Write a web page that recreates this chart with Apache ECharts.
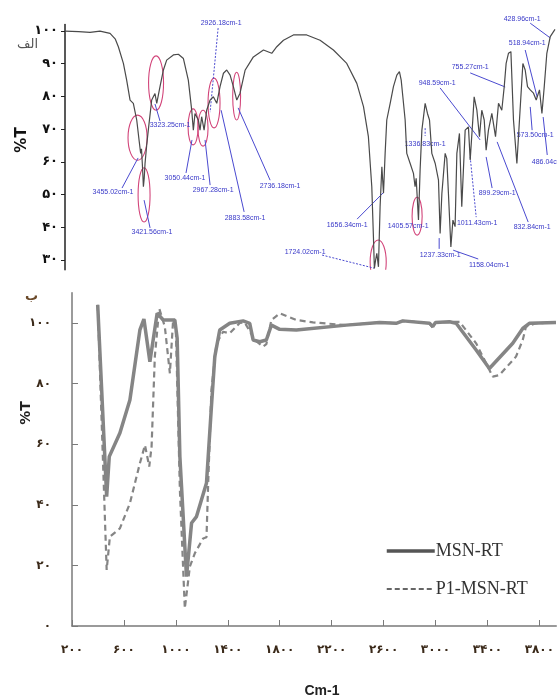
<!DOCTYPE html>
<html>
<head>
<meta charset="utf-8">
<script src="https://cdn.jsdelivr.net/npm/echarts@6/dist/echarts.min.js"></script>
<style>
  html, body { margin: 0; padding: 0; background: #fff; }
  #chart { width: 557px; height: 695px; }
</style>
</head>
<body>
<div id="chart"></div>
<script>
// Spectrum (a): wavenumber (cm-1), transmittance (%T)
const spectrumA = [
  [4000,100],[3900,99.8],[3816,99.6],[3743,100],[3669,99.3],[3630,97.5],[3608,95.2],[3571,90.1],
  [3547,85],[3522,78.9],[3498,77.9],[3473,72.8],[3456,66.7],[3444,62.6],[3438,64],[3430,58],
  [3424,52.4],[3418,55],[3412,59.5],[3400,65],[3388,69.7],[3363,78.9],[3339,80.9],[3326,77.9],
  [3302,83],[3277,88.1],[3253,91.1],[3204,92.7],[3167,92.9],[3130,91.6],[3094,85],[3069,75.8],
  [3057,69.7],[3045,74.8],[3020,72.8],[3008,69.7],[2996,73.8],[2978,69.7],[2959,75.8],[2934,78.9],
  [2910,79.9],[2885,77.9],[2861,83],[2836,87.1],[2812,88.1],[2787,86.5],[2763,83],[2738,78.9],
  [2714,81],[2677,88],[2640,90.5],[2616,92.1],[2542,94.2],[2481,93.2],[2444,95.2],[2395,97.2],
  [2322,98.8],[2224,98.8],[2126,97.2],[2028,94.2],[1930,90.1],[1856,84],[1807,76.9],[1771,67.7],
  [1746,52.4],[1734,37.1],[1727,27.4],[1718,30],[1709,32],[1697,27.9],[1685,46.3],[1672,58.5],
  [1660,50.4],[1648,62.6],[1636,72.8],[1611,77.9],[1587,83],[1562,86.5],[1543,87.6],[1530,85],
  [1518,80],[1501,72.8],[1489,62.6],[1464,59.5],[1440,56.5],[1428,52.4],[1420,55],[1403,42.2],
  [1391,57.5],[1378,69.7],[1354,77.9],[1337,74.8],[1322,72.8],[1305,62.6],[1280,59.5],[1256,54.4],
  [1244,38.1],[1231,50.4],[1207,62.6],[1195,61],[1183,50.4],[1165,34],[1150,42.2],[1134,40.2],
  [1121,62.6],[1102,68.7],[1085,46.3],[1060,69.7],[1036,70.7],[1023,60.6],[1004,72.8],[994,79.9],
  [974,75.8],[955,67.7],[938,75.8],[920,72.8],[906,63.6],[889,69.7],[864,74.8],[850,75],
  [837,67.7],[815,77.9],[791,75.8],[773,83],[759,90.1],[742,93.2],[724,93.7],[705,72.8],
  [680,59.5],[661,72.8],[636,90.1],[619,88.1],[602,83],[582,82],[558,81],[538,78.9],
  [514,82],[496,74.8],[479,83],[460,93.2],[435,98.3],[411,99.8],[400,100.5]
];

// Spectrum (b): MSN-RT
const msnRt = [
  [398,106],[467,42.7],[487,55.9],[569,63.7],[646,74.6],[723,97.7],[754,101.3],[800,87.2],
  [856,103.2],[903,101],[992,101],[1010,95],[1031,55.9],[1082,16.3],[1121,34],[1159,36.1],
  [1236,47.2],[1274,72.4],[1300,88.9],[1338,97.7],[1415,99.9],[1518,100.7],[1569,99.9],[1595,94.4],
  [1646,93.8],[1697,94.4],[1736,99.3],[1800,97.9],[1928,97.7],[2313,99.3],[2569,100.2],[2697,99.9],
  [2748,100.7],[2954,99.9],[2979,98.8],[3000,100.2],[3108,100.4],[3159,99.9],[3313,91.1],[3415,85],
  [3428,84.6],[3595,93.3],[3672,98.2],[3723,99.9],[3928,100.2]
];

// Spectrum (b): P1-MSN-RT
const p1MsnRt = [
  [398,106],[467,18.5],[492,29.5],[569,32.2],[646,40.5],[723,53.7],[762,59.7],[795,52.6],
  [813,59.2],[838,88.9],[872,104.8],[915,98.8],[954,83.4],[979,101],[1000,98],[1031,44.9],
  [1069,5.8],[1108,19.6],[1146,24],[1210,28.9],[1236,29.3],[1249,47.1],[1274,77.9],[1313,93.3],
  [1364,97.1],[1415,96.6],[1492,100],[1530,100.2],[1608,94.4],[1672,92.2],[1697,93],[1736,101],
  [1800,103.2],[1928,101],[2056,100.2],[2313,99.3],[2569,100.2],[2697,99.9],[2748,100.7],[2954,99.9],
  [2979,98.4],[3000,100],[3108,100.4],[3185,100.4],[3313,93.3],[3441,82.3],[3492,82.8],[3620,88.9],
  [3672,94.4],[3697,98.8],[3774,99.9],[3928,100.2]
];

// Tick values
const ticksA = [30, 40, 50, 60, 70, 80, 90, 100];
const ticksBy = [0, 20, 40, 60, 80, 100];
const ticksBx = [200, 600, 1000, 1400, 1800, 2200, 2600, 3000, 3400, 3800];

// Peak labels on spectrum (a): text, label position (wn, T), leader from (wn, T) to (wn, T), dashed leader
const peakText = [
  '3455.02cm-1','3421.56cm-1','3323.25cm-1','3050.44cm-1','2967.28cm-1','2926.18cm-1',
  '2883.58cm-1','2736.18cm-1','1656.34cm-1','1724.02cm-1','1405.57cm-1','1336.83cm-1',
  '1237.33cm-1','1158.04cm-1','1011.43cm-1','948.59cm-1','899.29cm-1','832.84cm-1',
  '755.27cm-1','518.94cm-1','573.50cm-1','486.04cm-1','428.96cm-1'
];
const peakLabelPos = [
  [3647,50.8],[3361,38.6],[3228,71.3],[3118,55.1],[2912,51.4],[2853,102.4],
  [2677,42.8],[2420,52.6],[1927,40.7],[2236,32.4],[1479,40.4],[1354,65.5],
  [1244,31.5],[884,28.5],[972,41.3],[1266,84.1],[825,50.5],[568,40.1],
  [1023,89],[604,96.3],[546,68.2],[435,60],[641,103.7]
];
const peakLeaders = [
  [3581,52,3463,61.2],[3419,48.3,3375,39.8],[3339,77.7,3302,72.5],[3067,66.7,3111,56.6],
  [2971,66.7,2934,52.9],[2875,100.9,2934,75.2],[2853,75.8,2684,44.7],[2728,76.5,2493,54.4],
  [1854,42.5,1663,50.5],[2111,31.5,1729,27.5],null,[1354,70.3,1354,67.9],
  [1251,36.7,1251,33.4],[1148,33,964,30.3],[1023,61.5,979,43.1],[1244,82.6,950,66.7],
  [906,61.5,862,52],[825,66.1,597,41.6],[1023,87.2,766,82.9],[619,94.2,531,79.8],
  [582,76.8,568,69.7],[487,73.7,457,62.1],[582,102.4,435,97.9]
];
const peakLeaderDashed = [0,0,0,0,0,1,0,0,0,1,0,1,0,0,1,0,0,0,0,0,0,0,0];

// Highlighted regions on spectrum (a): centre (wn, T), half width (wn), half height (T)
const peakRings = [
  [3467,67.4,70,6.9],[3419,49.9,44,8.3],[3331,84.1,55,8.3],[3059,70.7,37,5.5],
  [2986,70.3,37,5.5],[2905,78,44,7.6],[2739,80.1,29,7.3],[1699,29.4,59,6.7],[1413,43.4,37,5.8]
];

const persian = v => String(v).replace(/\d/g, d => '۰۱۲۳۴۵۶۷۸۹'[+d]);

const chart = echarts.init(document.getElementById('chart'), null, { renderer: 'canvas' });

const labelRows = peakLabelPos.map((p, i) => {
  const l = peakLeaders[i] || [p[0], p[1], p[0], p[1]];
  return [p[0], p[1], l[0], l[1], l[2], l[3], peakLeaderDashed[i], peakLeaders[i] ? 1 : 0];
});

const option = {
  backgroundColor: '#ffffff',
  animation: false,
  grid: [
    { left: 65, top: 24.5, width: 490, height: 245.3 },
    { left: 72, top: 292.7, width: 485, height: 333.3 }
  ],
  xAxis: [
    { gridIndex: 0, type: 'value', inverse: true, min: 400, max: 4000, show: false },
    {
      gridIndex: 1, type: 'value', min: 200, max: 3930,
      axisLine: { lineStyle: { color: '#7a7a7a', width: 1.5 } },
      axisTick: { inside: true, length: 6, customValues: ticksBx, lineStyle: { color: '#7a7a7a' } },
      axisLabel: {
        customValues: ticksBx, formatter: v => persian(v), margin: 18,
        color: '#3b2a1a', fontFamily: 'DejaVu Sans', fontSize: 12, fontWeight: 'bold'
      },
      splitLine: { show: false }
    }
  ],
  yAxis: [
    {
      gridIndex: 0, type: 'value', min: 27, max: 102,
      axisLine: { show: true, lineStyle: { color: '#222', width: 1.5 } },
      axisTick: { show: true, inside: false, length: 4, customValues: ticksA, lineStyle: { color: '#222' } },
      axisLabel: {
        customValues: ticksA, formatter: v => persian(v), margin: 7,
        color: '#111', fontFamily: 'DejaVu Sans', fontSize: 13, fontWeight: 'bold'
      },
      splitLine: { show: false }
    },
    {
      gridIndex: 1, type: 'value', min: 0, max: 110,
      axisLine: { show: true, lineStyle: { color: '#7a7a7a', width: 1.5 } },
      axisTick: { show: true, inside: true, length: 6, customValues: ticksBy, lineStyle: { color: '#7a7a7a' } },
      axisLabel: {
        customValues: ticksBy, formatter: v => persian(v), margin: 21,
        color: '#3b2a1a', fontFamily: 'DejaVu Sans', fontSize: 12, fontWeight: 'bold'
      },
      splitLine: { show: false }
    }
  ],
  legend: {
    orient: 'vertical', left: 380, top: 537, itemWidth: 48, itemHeight: 14, itemGap: 20,
    data: [
      { name: 'MSN-RT', itemStyle: { opacity: 0 }, lineStyle: { width: 3.5, color: '#555' } },
      { name: 'P1-MSN-RT', itemStyle: { opacity: 0 }, lineStyle: { width: 2, color: '#666', type: [5, 3] } }
    ],
    textStyle: { fontFamily: 'Liberation Serif', fontSize: 18, color: '#333', padding: [0, 0, 0, -4] }
  },
  series: [
    {
      type: 'line', name: 'spectrum-a', xAxisIndex: 0, yAxisIndex: 0, data: spectrumA,
      showSymbol: false, symbol: 'none', clip: false,
      lineStyle: { color: '#4a4a4a', width: 1.2 }
    },
    {
      type: 'custom', xAxisIndex: 0, yAxisIndex: 0, clip: true, silent: true,
      data: peakRings,
      renderItem: (params, api) => {
        const c = api.coord([api.value(0), api.value(1)]);
        const s = api.size([api.value(2), api.value(3)]);
        return {
          type: 'ellipse',
          shape: { cx: c[0], cy: c[1], rx: s[0], ry: s[1] },
          style: { fill: null, stroke: '#d2457a', lineWidth: 1.1 }
        };
      }
    },
    {
      type: 'custom', xAxisIndex: 0, yAxisIndex: 0, clip: false, silent: true,
      data: labelRows,
      renderItem: (params, api) => {
        const p = api.coord([api.value(0), api.value(1)]);
        const a = api.coord([api.value(2), api.value(3)]);
        const b = api.coord([api.value(4), api.value(5)]);
        const children = [];
        if (api.value(7)) {
          children.push({
            type: 'line',
            shape: { x1: a[0], y1: a[1], x2: b[0], y2: b[1] },
            style: { stroke: '#4a4ad0', lineWidth: 1, lineDash: api.value(6) ? [2, 1.5] : null }
          });
        }
        children.push({
          type: 'text',
          style: {
            text: peakText[params.dataIndex], x: p[0], y: p[1],
            align: 'center', verticalAlign: 'middle',
            fill: '#3838c8', font: '7px "Liberation Sans", sans-serif'
          }
        });
        return { type: 'group', children };
      }
    },
    {
      type: 'line', name: 'MSN-RT', xAxisIndex: 1, yAxisIndex: 1, data: msnRt,
      showSymbol: false, symbol: 'none', clip: false, color: '#858585',
      lineStyle: { color: '#858585', width: 3.5 }
    },
    {
      type: 'line', name: 'P1-MSN-RT', xAxisIndex: 1, yAxisIndex: 1, data: p1MsnRt,
      showSymbol: false, symbol: 'none', clip: false, color: '#858585',
      lineStyle: { color: '#858585', width: 2.2, type: [6, 4] }
    }
  ],
  graphic: [
    { type: 'text', left: 17, top: 38, style: { text: 'الف', fill: '#555', font: '13px "DejaVu Sans"' } },
    { type: 'text', left: 25, top: 290, style: { text: 'ب', fill: '#6b4a2a', font: 'bold 13px "DejaVu Sans"' } },
    { type: 'text', x: 22, y: 140, rotation: Math.PI / 2,
      style: { text: '%T', fill: '#111', font: 'bold 15px "DejaVu Sans"', align: 'center', verticalAlign: 'middle' } },
    { type: 'text', x: 26, y: 413, rotation: Math.PI / 2,
      style: { text: '%T', fill: '#222', font: 'bold 14px "DejaVu Sans"', align: 'center', verticalAlign: 'middle' } },
    { type: 'text', x: 322, y: 691,
      style: { text: 'Cm-1', fill: '#222', font: 'bold 14px "Liberation Sans"', align: 'center', verticalAlign: 'middle' } }
  ]
};

chart.setOption(option);
</script>
</body>
</html>
